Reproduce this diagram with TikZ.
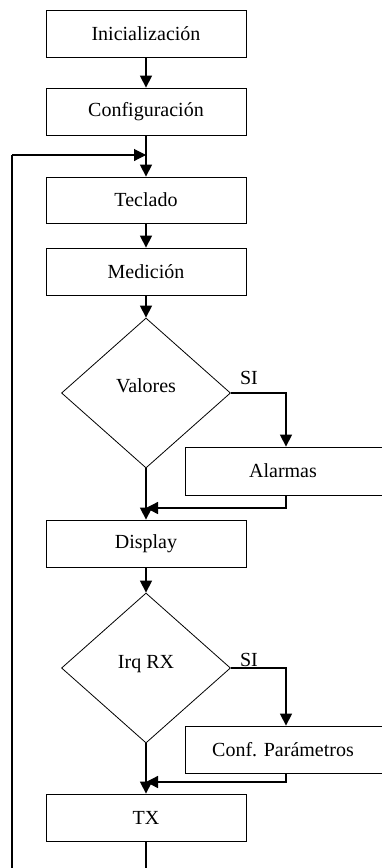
\documentclass[tikz,border=0pt]{standalone}
\usepackage{fontspec}
\setmainfont{Liberation Serif}
\usetikzlibrary{shapes.geometric,arrows.meta}
\begin{document}
\begin{tikzpicture}[x=1pt,y=-1pt,
  font=\fontsize{20}{22}\selectfont,
  box/.style={draw,line width=0.8pt,minimum width=200pt,minimum height=47pt,inner sep=0pt},
  sidebox/.style={draw,line width=0.8pt,minimum width=202pt,minimum height=48pt,inner sep=0pt},
  decision/.style={draw,diamond,line width=0.8pt,minimum width=169pt,minimum height=150pt,inner sep=0pt},
  conn/.style={line width=1.3pt,-{Triangle[length=12pt,width=12pt]}},
  plain/.style={line width=1.1pt}]
\useasboundingbox (0,0) rectangle (382,868);
\clip (0,0) rectangle (382,868);
\node[box] (ini) at (146,33.5) {Inicialización};
\node[box] (conf) at (146,111.5) {Configuración};
\node[box,minimum height=46pt] (tec) at (146,200) {Teclado};
\node[box] (med) at (146,271.5) {Medición};
\node[decision] (val) at (146,393) {};
\node at (146,386) {Valores};
\node[sidebox] (alarm) at (286,471) {\hspace*{-6pt}Alarmas};
\node[box] (disp) at (146,543.5) {Display};
\node[decision] (irq) at (146,668) {};
\node at (146,664) {Irq RX};
\node[sidebox,minimum height=47pt] (cpar) at (286,749.5) {\hspace*{-6pt}Conf. Parámetros};
\node[box] (tx) at (146,817.5) {TX};
\node (si1) at (249,378) {SI};
\node (si2) at (249,660) {SI};
\coordinate (join) at (146,155);
\coordinate (m1) at (146,508);
\coordinate (m2) at (146,782);
\coordinate (bot) at (146,890);
\coordinate (botl) at (12,890);
\draw[conn] (ini) -- (conf);
\draw[conn] (conf) -- (tec);
\draw[conn] (tec) -- (med);
\draw[conn] (med) -- (val);
\draw[conn] (val.east) -| (alarm.north);
\draw[conn] (val.south) -- (disp.north);
\draw[conn] (alarm.south) |- (m1);
\draw[conn] (disp) -- (irq);
\draw[conn] (irq.east) -| (cpar.north);
\draw[conn] (irq.south) -- (tx.north);
\draw[conn] (cpar.south) |- (m2);
\draw[plain] (tx.south) -- (bot) -- (botl) -- (12,155);
\draw[conn,line width=1.1pt] (12,155) -- (join);
\end{tikzpicture}
\end{document}
